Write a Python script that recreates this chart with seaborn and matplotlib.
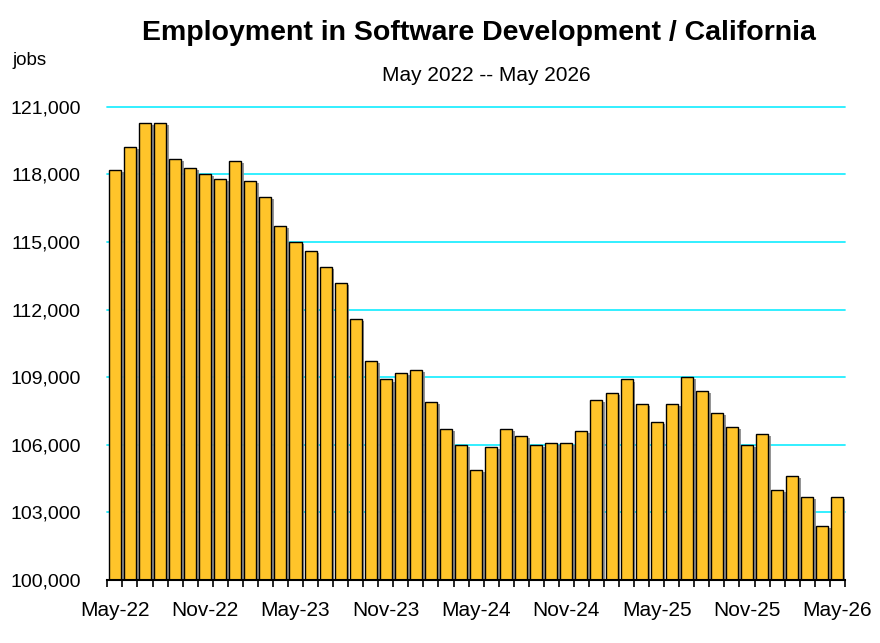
import pandas as pd
import seaborn as sns
import matplotlib.pyplot as plt
import matplotlib.patheffects as pe
from matplotlib.ticker import FuncFormatter

sns.set_style("white")
plt.rcParams['font.family'] = ['Liberation Sans Narrow', 'Liberation Sans', 'DejaVu Sans']
plt.rcParams['text.color'] = 'black'
plt.rcParams['xtick.color'] = 'black'
plt.rcParams['ytick.color'] = 'black'

# monthly employment, May 2022 .. May 2026
months = list(pd.date_range("2022-05-01", periods=49, freq="MS").strftime("%b-%y"))
jobs = [
    118200, 119200, 120300, 120300, 118700, 118300, 118000, 117800, 118600, 117700,
    117000, 115700, 115000, 114600, 113900, 113200, 111600, 109700, 108900, 109200,
    109300, 107900, 106700, 106000, 104900, 105900, 106700, 106400, 106000, 106100,
    106100, 106600, 108000, 108300, 108900, 107800, 107000, 107800, 109000, 108400,
    107400, 106800, 106000, 106500, 104000, 104600, 103700, 102400, 103700,
]
y_ticks = list(range(100000, 121001, 3000))
label_every = 6

data = pd.DataFrame({"Month": months, "Jobs": jobs})

fig = plt.figure(figsize=(8.8, 6.43), dpi=100)
ax = fig.add_axes([0.122, 0.098, 0.838, 0.736])

sns.barplot(data=data, x="Month", y="Jobs", color="#FFC42A", saturation=1,
            width=0.8, edgecolor="black", linewidth=1.0, ax=ax, zorder=3)
for bar in ax.patches:
    bar.set_path_effects([pe.SimplePatchShadow(offset=(2, -1.5), shadow_rgbFace="#8a8a8a", alpha=0.9),
                          pe.Normal()])

ax.set_ylim(100000, 121000)
ax.set_xlim(-0.5, len(months) - 0.5)
ax.set_yticks(y_ticks)
ax.yaxis.set_major_formatter(FuncFormatter(lambda v, p: f"{int(v):,}"))
ax.yaxis.grid(True, color="#22EEFF", linewidth=1.3, zorder=0)
for gl in ax.get_ygridlines():
    gl.set_clip_on(False)
ax.set_axisbelow(True)

ax.set_xticks(range(0, len(months), label_every))
ax.set_xticklabels(months[::label_every])
ax.set_xticks([i - 0.5 for i in range(len(months) + 1)], minor=True)
ax.tick_params(axis="x", which="major", length=0, pad=15, labelsize=15)
ax.tick_params(axis="x", which="minor", length=5, width=1.2, color="black", bottom=True)
ax.tick_params(axis="y", length=0, pad=19, labelsize=14)
ax.set_xlabel("")
ax.set_ylabel("")

for s in ["left", "right", "top"]:
    ax.spines[s].set_visible(False)
ax.spines["bottom"].set_color("black")
ax.spines["bottom"].set_linewidth(1.5)
ax.spines["bottom"].set_zorder(4)

fig.text(0.544, 0.948, "Employment in Software Development / California",
         ha="center", va="center", fontsize=20.5, fontweight="bold")
fig.text(0.553, 0.883, "May 2022 -- May 2026", ha="center", va="center", fontsize=15)
fig.text(0.014, 0.906, "jobs", ha="left", va="center", fontsize=13.5)

plt.savefig("out.png", dpi=100)
